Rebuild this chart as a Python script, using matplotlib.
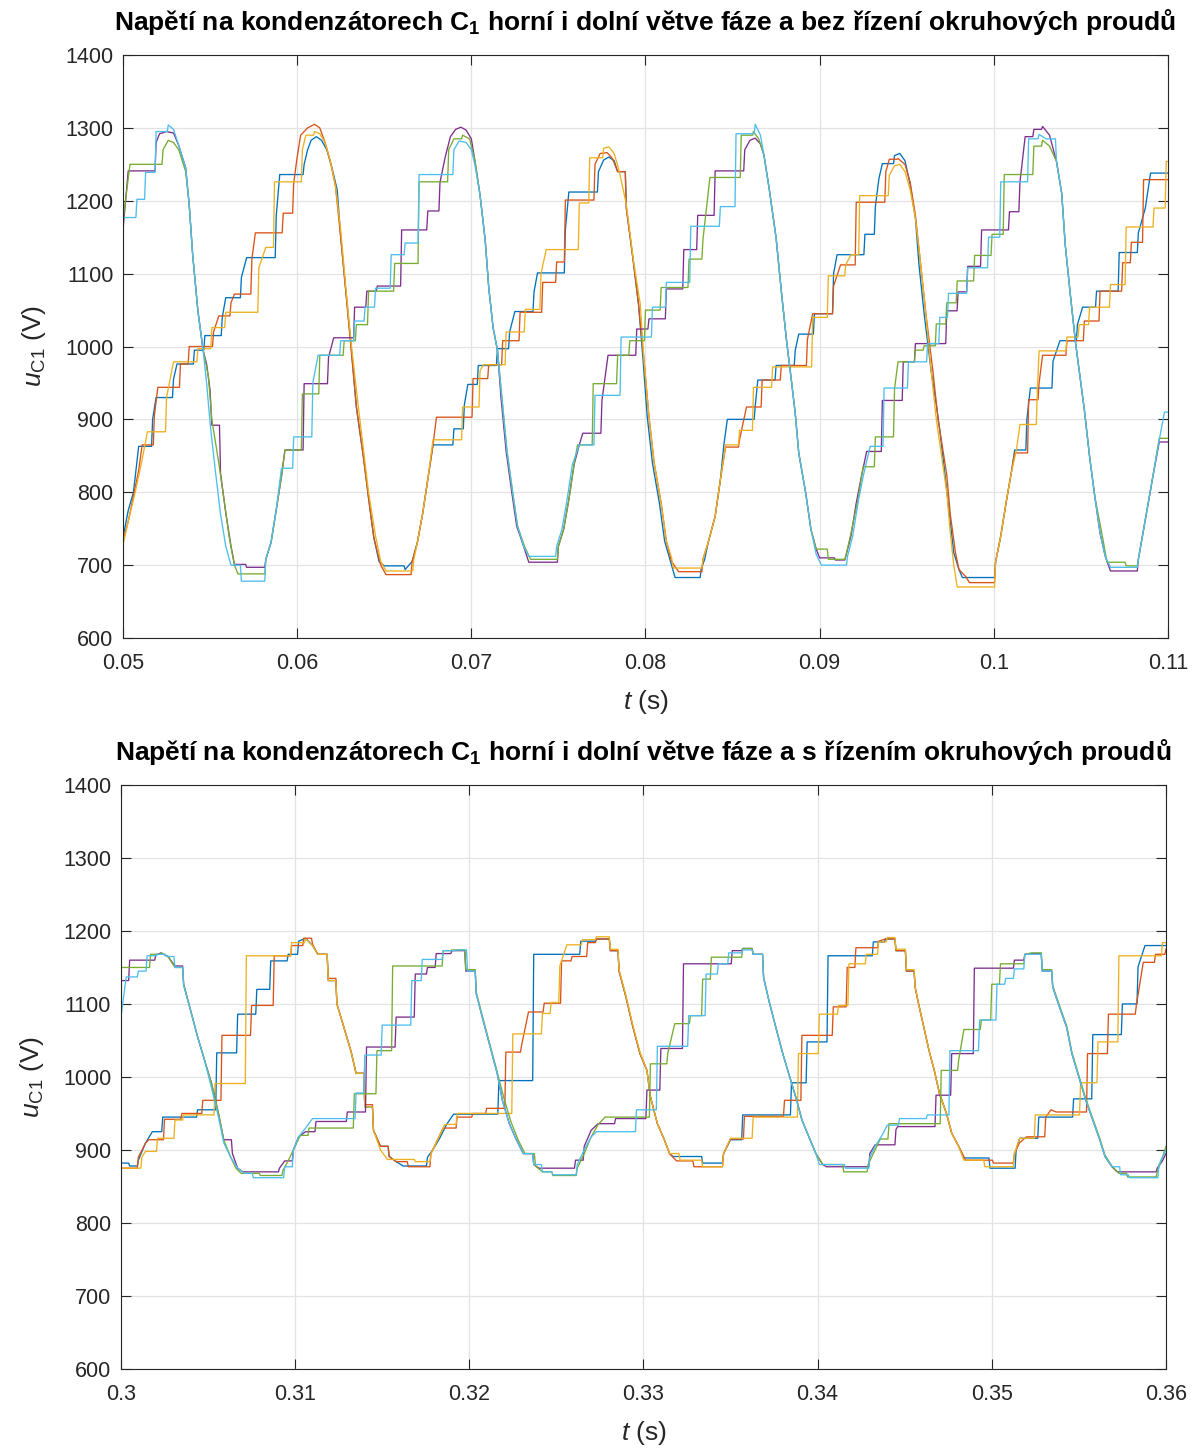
import numpy as np
import matplotlib
matplotlib.use('Agg')
from matplotlib import pyplot as plt
from matplotlib.ticker import FuncFormatter

plt.rcParams['font.family'] = ['Liberation Sans', 'DejaVu Sans']
plt.rcParams['mathtext.fontset'] = 'custom'
plt.rcParams['mathtext.rm'] = 'Liberation Sans'
plt.rcParams['mathtext.it'] = 'Liberation Sans:italic'
plt.rcParams['mathtext.bf'] = 'Liberation Sans:bold'

# (time in ms, voltage in V) knots
top_blue = [(50.0,738),(50.3,775),(50.6,800),(50.9,863),(51.7,900),(51.9,930),(52.9,955),(53.1,976),(54.1,995),(54.7,1015),(55.7,1040),(55.9,1067),(56.8,1095),(57.1,1122),(58.8,1180),(59.0,1236),(60.4,1250),(60.6,1270),(60.8,1283),(61.1,1288),(61.4,1283),(61.7,1270),(62.0,1245),(62.3,1215),(62.5,1150),(62.8,1075),(63.1,1000),(63.4,917),(63.8,849),(64.1,792),(64.4,738),(64.7,705),(65.0,699),(66.2,694),(66.6,705),(66.9,731),(67.2,770),(67.5,817),(67.8,865),(69.0,887),(69.6,920),(69.8,948),(70.4,974),(71.5,997),(72.2,1020),(72.5,1048),(73.6,1075),(73.8,1101),(75.4,1160),(75.6,1212),(77.3,1240),(77.6,1256),(77.9,1260),(78.2,1255),(78.4,1240),(78.9,1190),(79.3,1117),(79.6,1058),(79.85,985),(80.1,904),(80.4,840),(80.8,785),(81.1,733),(81.4,708),(81.7,683),(83.2,695),(83.4,708),(83.6,731),(84.0,767),(84.3,817),(84.5,865),(84.7,900),(86.3,918),(86.45,954),(87.5,974),(88.6,995),(88.8,1017),(89.7,1045),(90.8,1100),(91.0,1126),(92.6,1154),(93.2,1192),(93.4,1230),(93.6,1251),(94.3,1262),(94.6,1265),(94.9,1255),(95.2,1222),(95.5,1176),(95.7,1113),(96.0,1045),(96.4,967),(96.7,920),(96.9,885),(97.2,824),(97.45,770),(97.7,717),(98.0,694),(98.2,683),(100.1,704),(100.4,740),(100.7,785),(101.0,826),(101.2,858),(101.9,900),(102.1,943),(103.4,980),(103.8,1008),(104.8,1030),(105.1,1054),(105.9,1076),(107.2,1129),(108.3,1156),(108.7,1190),(109.0,1238),(110.0,1238)]
top_orange = [(50.0,733),(50.3,760),(50.6,795),(50.9,830),(51.1,865),(51.8,905),(52.0,944),(53.3,976),(53.8,1000),(55.2,1020),(55.5,1042),(56.2,1060),(56.4,1072),(57.4,1120),(57.6,1156),(59.2,1183),(59.8,1224),(60.0,1260),(60.2,1290),(60.6,1300),(61.0,1305),(61.3,1300),(61.6,1280),(61.9,1255),(62.2,1220),(62.5,1150),(62.8,1074),(63.1,995),(63.4,917),(63.8,849),(64.1,792),(64.4,738),(64.8,700),(65.1,687),(66.6,705),(66.9,731),(67.2,770),(67.5,817),(67.8,865),(68.0,903),(70.1,956),(71.0,975),(71.8,1008),(72.8,1047),(74.1,1088),(74.9,1116),(75.4,1201),(77.1,1250),(77.4,1265),(77.8,1266),(78.1,1258),(78.4,1240),(78.9,1190),(79.3,1117),(79.6,1058),(79.9,985),(80.2,904),(80.5,840),(80.9,785),(81.2,733),(81.5,705),(81.9,691),(83.3,708),(83.6,731),(84.0,767),(84.3,817),(84.6,862),(85.4,872),(85.8,917),(86.7,954),(87.8,974),(89.3,1010),(89.6,1045),(90.8,1083),(91.2,1112),(92.1,1198),(93.8,1240),(94.0,1257),(94.5,1258),(94.9,1250),(95.2,1225),(95.5,1180),(95.8,1113),(96.1,1045),(96.5,967),(96.8,900),(97.0,870),(97.3,824),(97.5,770),(97.8,717),(98.0,694),(98.4,684),(98.6,676),(100.1,704),(100.4,740),(100.7,785),(101.0,826),(101.2,854),(102.0,927),(102.6,950),(102.8,988),(104.2,1008),(105.2,1035),(106.1,1076),(107.4,1115),(107.9,1143),(108.6,1229),(110.0,1229)]
top_yellow = [(50.0,728),(50.3,760),(50.7,800),(51.1,845),(51.4,883),(52.5,930),(52.9,979),(54.3,997),(55.1,1026),(55.9,1047),(57.8,1108),(58.2,1136),(58.7,1226),(60.3,1270),(60.5,1290),(61.0,1295),(61.3,1292),(61.6,1280),(61.9,1255),(62.2,1220),(62.5,1160),(62.8,1080),(63.1,1005),(63.5,920),(63.8,860),(64.1,800),(64.5,740),(64.8,705),(65.1,692),(66.7,708),(66.9,731),(67.2,770),(67.5,817),(67.8,872),(69.5,917),(70.5,967),(70.7,975),(72.0,1020),(73.1,1051),(74.0,1100),(74.3,1133),(76.2,1197),(76.8,1259),(77.6,1272),(77.9,1274),(78.2,1265),(78.5,1240),(78.9,1195),(79.3,1120),(79.7,1058),(79.9,985),(80.2,904),(80.5,840),(80.9,785),(81.2,733),(81.5,710),(81.6,696),(83.3,708),(83.6,731),(84.0,767),(84.3,817),(84.6,865),(85.4,885),(86.2,944),(87.3,972),(89.6,1040),(90.5,1097),(91.5,1112),(91.8,1126),(92.3,1207),(94.0,1235),(94.3,1248),(94.6,1250),(94.9,1240),(95.2,1215),(95.5,1176),(95.8,1113),(96.1,1045),(96.4,967),(96.7,900),(97.0,850),(97.3,800),(97.5,745),(97.7,700),(97.9,670),(100.1,704),(100.4,740),(100.7,785),(101.0,826),(101.3,858),(101.5,893),(102.5,940),(102.6,994),(104.2,1013),(104.9,1030),(105.5,1054),(106.7,1085),(107.6,1164),(109.2,1190),(109.9,1254),(110.0,1254)]
top_purple = [(50.0,1160),(50.3,1241),(51.9,1280),(52.1,1292),(52.5,1295),(52.9,1293),(53.2,1276),(53.6,1245),(53.8,1195),(54.0,1126),(54.3,1049),(54.6,995),(54.8,976),(55.0,940),(55.1,892),(55.6,826),(55.9,772),(56.2,726),(56.4,701),(57.1,697),(58.2,708),(58.5,731),(58.8,776),(59.1,822),(59.3,858),(60.4,949),(61.8,985),(62.1,1012),(63.3,1054),(64.0,1076),(64.6,1083),(66.0,1160),(67.5,1186),(68.2,1225),(68.5,1260),(68.8,1288),(69.1,1298),(69.4,1301),(69.7,1297),(70.0,1285),(70.2,1256),(70.5,1208),(70.8,1145),(71.0,1081),(71.25,1026),(71.5,995),(71.7,931),(72.0,856),(72.3,804),(72.6,754),(73.0,726),(73.3,704),(75.0,726),(75.3,749),(75.6,790),(75.9,838),(76.2,865),(76.4,881),(77.5,926),(77.85,988),(79.5,1024),(80.2,1038),(81.2,1079),(82.2,1133),(83.0,1180),(84.0,1241),(85.7,1270),(86.0,1283),(86.3,1286),(86.6,1278),(86.8,1263),(87.1,1217),(87.5,1149),(87.8,1076),(88.1,1008),(88.4,949),(88.6,908),(88.8,854),(89.2,799),(89.5,749),(89.8,722),(90.0,710),(90.9,707),(91.5,712),(91.8,740),(92.1,785),(92.4,822),(92.7,856),(93.6,926),(94.8,979),(95.5,1004),(97.3,1049),(97.95,1075),(98.5,1110),(99.3,1160),(100.9,1185),(101.5,1225),(101.8,1288),(102.3,1298),(102.8,1302),(103.2,1290),(103.6,1254),(103.9,1210),(104.1,1140),(104.4,1070),(104.7,1004),(105.0,949),(105.2,913),(105.5,849),(105.8,794),(106.1,744),(106.4,712),(106.7,692),(108.3,708),(108.5,735),(108.8,776),(109.1,817),(109.5,869),(110.0,869)]
top_green = [(50.0,1172),(50.4,1250),(52.3,1270),(52.6,1283),(52.9,1280),(53.2,1270),(53.6,1240),(53.8,1195),(54.0,1126),(54.3,1049),(54.6,995),(54.9,960),(55.1,900),(55.5,840),(55.8,790),(56.1,738),(56.4,700),(56.6,688),(58.2,708),(58.5,731),(58.8,776),(59.1,822),(59.3,858),(60.3,935),(61.3,988),(62.7,1008),(63.4,1030),(64.1,1076),(65.6,1114),(67.0,1226),(68.7,1270),(69.0,1285),(69.5,1290),(69.9,1285),(70.2,1256),(70.5,1208),(70.8,1145),(71.0,1081),(71.25,1026),(71.5,995),(71.75,931),(72.05,856),(72.35,804),(72.65,754),(73.05,726),(73.4,708),(75.0,726),(75.3,749),(75.6,790),(75.9,838),(76.1,865),(77.0,949),(78.4,988),(79.1,1008),(80.0,1050),(80.9,1081),(82.5,1120),(83.3,1147),(83.7,1232),(85.5,1290),(86.2,1295),(86.5,1285),(86.8,1263),(87.1,1217),(87.5,1149),(87.8,1076),(88.1,1008),(88.4,949),(88.6,908),(88.8,854),(89.2,799),(89.5,749),(89.8,722),(90.5,708),(91.5,712),(91.8,744),(92.2,790),(92.5,835),(93.2,876),(94.3,942),(94.5,979),(95.5,995),(96.0,1001),(96.7,1031),(97.3,1060),(97.9,1090),(98.9,1125),(99.9,1154),(100.6,1236),(102.3,1275),(102.8,1283),(103.2,1275),(103.6,1254),(103.9,1210),(104.1,1140),(104.4,1070),(104.7,1004),(105.0,949),(105.2,913),(105.5,849),(105.8,794),(106.2,744),(106.5,704),(107.6,699),(108.3,708),(108.5,735),(108.8,776),(109.1,817),(109.5,874),(110.0,874)]
top_lightblue = [(50.0,1177),(50.8,1202),(51.3,1239),(51.9,1295),(52.6,1304),(52.9,1298),(53.2,1276),(53.6,1245),(53.8,1195),(54.0,1126),(54.3,1049),(54.6,995),(54.8,950),(55.0,895),(55.3,830),(55.6,770),(55.9,726),(56.2,700),(56.8,678),(58.2,708),(58.5,731),(58.8,776),(59.1,833),(59.8,876),(60.9,950),(61.2,988),(62.5,1008),(63.3,1035),(63.9,1054),(64.5,1080),(65.4,1126),(66.2,1142),(67.0,1236),(69.0,1270),(69.3,1282),(69.7,1280),(70.0,1270),(70.2,1250),(70.5,1208),(70.8,1145),(71.0,1081),(71.25,1026),(71.5,995),(71.75,931),(72.05,856),(72.35,804),(72.65,754),(73.0,726),(73.3,712),(74.9,726),(75.2,749),(75.5,790),(75.8,838),(76.2,865),(77.1,933),(78.6,1013),(80.4,1054),(81.2,1088),(82.6,1165),(84.3,1192),(85.2,1292),(86.3,1305),(86.6,1290),(86.8,1263),(87.1,1217),(87.5,1149),(87.8,1076),(88.1,1008),(88.4,949),(88.6,908),(88.8,854),(89.2,799),(89.5,749),(89.8,715),(90.1,700),(91.6,712),(91.9,740),(92.2,785),(92.5,822),(92.9,863),(93.7,943),(95.1,979),(96.2,1004),(96.9,1040),(97.4,1073),(98.5,1108),(99.7,1150),(100.4,1226),(102.0,1285),(102.6,1291),(103.0,1285),(103.6,1254),(103.9,1210),(104.1,1140),(104.4,1070),(104.7,1004),(105.0,949),(105.2,913),(105.5,849),(105.8,794),(106.1,744),(106.4,712),(106.7,697),(108.3,708),(108.5,735),(108.8,776),(109.1,817),(109.5,872),(109.8,910),(110.0,910)]

bot_blue = [(300.0,882),(300.5,878),(301.0,886),(301.4,909),(301.8,925),(302.4,945),(304.4,955),(305.5,1033),(306.7,1086),(307.8,1120),(308.6,1159),(309.6,1168),(310.2,1186),(310.6,1190),(311.0,1180),(311.3,1168),(311.9,1132),(312.4,1100),(312.8,1068),(313.2,1036),(313.5,1005),(314.0,959),(314.5,927),(314.9,905),(315.4,891),(315.8,884),(316.2,878),(317.6,890),(317.9,900),(318.3,916),(318.7,935),(319.1,949),(321.7,995),(323.7,1168),(326.4,1186),(327.3,1189),(328.1,1173),(328.6,1145),(329.0,1109),(329.4,1068),(329.8,1032),(330.2,1009),(330.4,973),(330.8,936),(331.2,914),(331.5,895),(331.7,891),(333.4,882),(334.6,895),(335.0,914),(335.7,948),(338.5,992),(339.4,1048),(340.6,1166),(343.2,1185),(343.9,1189),(344.5,1173),(345.1,1145),(345.6,1123),(345.8,1100),(346.1,1068),(346.4,1036),(346.7,1009),(347.0,977),(347.4,950),(347.7,923),(348.1,905),(348.4,889),(349.9,875),(351.4,900),(351.6,916),(352.7,945),(354.7,970),(355.8,1058),(357.5,1100),(358.4,1151),(358.8,1180),(360.0,1180)]
bot_orange = [(300.0,875),(301.0,890),(301.4,909),(301.6,914),(302.5,942),(303.5,950),(304.7,968),(305.8,1057),(307.5,1098),(308.8,1166),(309.8,1180),(310.5,1190),(311.0,1182),(311.3,1168),(311.9,1135),(312.4,1100),(312.8,1068),(313.2,1036),(313.5,1005),(314.0,962),(314.5,927),(314.9,905),(315.4,891),(315.8,884),(316.5,877),(317.8,895),(318.1,910),(318.5,930),(319.3,945),(320.2,950),(321.0,957),(322.1,1034),(323.0,1043),(323.4,1089),(324.3,1101),(325.3,1159),(325.9,1165),(326.8,1184),(327.3,1189),(328.1,1173),(328.6,1145),(329.0,1109),(329.4,1068),(329.8,1032),(330.2,1009),(330.4,973),(330.8,936),(331.2,914),(331.5,895),(331.9,885),(332.9,877),(334.6,895),(335.0,915),(335.8,946),(338.1,968),(339.1,1057),(340.9,1096),(341.7,1150),(342.2,1177),(343.5,1186),(343.9,1189),(344.5,1173),(345.1,1145),(345.6,1123),(345.8,1100),(346.1,1068),(346.4,1036),(346.7,1009),(347.0,977),(347.4,950),(347.7,923),(348.1,905),(348.5,886),(350.1,882),(351.3,895),(351.6,910),(352.0,918),(353.1,945),(353.4,955),(353.7,952),(355.5,1032),(356.7,1086),(358.3,1098),(358.7,1157),(359.4,1168),(360.0,1175)]
bot_yellow = [(300.0,875),(301.2,890),(301.4,898),(302.1,916),(303.1,941),(303.6,948),(305.4,991),(307.2,1166),(309.8,1184),(310.6,1189),(311.0,1180),(311.3,1168),(311.9,1132),(312.4,1100),(312.8,1068),(313.2,1036),(313.5,1005),(314.0,959),(314.5,927),(314.9,900),(315.3,887),(316.9,884),(317.8,895),(318.2,915),(318.6,935),(319.3,950),(322.5,1059),(324.2,1087),(324.7,1102),(325.2,1152),(325.6,1181),(326.5,1188),(327.3,1192),(328.1,1175),(328.6,1147),(329.0,1111),(329.4,1070),(329.8,1034),(330.2,1009),(330.4,973),(330.8,936),(331.2,914),(331.5,895),(332.1,886),(333.4,877),(334.6,895),(335.0,916),(336.3,945),(338.9,1032),(340.1,1086),(341.2,1098),(341.8,1155),(342.8,1168),(343.5,1185),(344.0,1191),(344.5,1175),(345.1,1147),(345.6,1123),(345.8,1100),(346.1,1068),(346.4,1036),(346.7,1009),(347.0,977),(347.4,950),(347.7,923),(348.1,905),(348.4,886),(349.6,877),(351.3,895),(351.6,916),(352.5,948),(355.1,992),(356.1,1048),(357.3,1166),(359.8,1184),(360.0,1184)]
bot_purple = [(300.0,1132),(300.5,1160),(302.0,1167),(302.3,1170),(302.7,1165),(303.1,1152),(303.6,1127),(304.0,1091),(304.4,1055),(304.8,1023),(305.2,991),(305.6,950),(305.9,914),(306.4,895),(306.7,875),(307.0,870),(309.1,875),(309.4,885),(309.9,900),(310.2,918),(310.6,925),(311.2,939),(313.0,952),(314.1,1041),(315.8,1082),(316.9,1141),(317.6,1150),(318.1,1169),(319.0,1173),(319.8,1145),(320.4,1114),(320.8,1077),(321.2,1041),(321.6,1005),(321.9,968),(322.3,936),(322.7,914),(323.1,895),(323.7,880),(324.0,875),(326.1,886),(326.6,905),(327.0,927),(327.4,936),(328.4,943),(330.2,982),(331.0,1039),(332.3,1155),(335.1,1173),(335.7,1176),(336.3,1168),(336.9,1136),(337.2,1105),(337.6,1068),(338.0,1032),(338.4,1000),(338.8,968),(339.1,941),(339.5,918),(339.9,895),(340.3,880),(340.5,877),(343.0,895),(343.3,907),(344.5,928),(344.6,932),(346.8,975),(347.7,1032),(349.0,1149),(351.3,1160),(351.9,1168),(352.3,1169),(352.9,1145),(353.5,1123),(353.9,1095),(354.3,1068),(354.6,1032),(355.0,1000),(355.4,968),(355.8,941),(356.2,914),(356.5,891),(356.9,877),(357.2,870),(359.5,875),(359.8,885),(360.0,895)]
bot_green = [(300.0,1150),(301.7,1168),(302.3,1170),(302.7,1165),(303.1,1150),(303.6,1127),(304.0,1091),(304.4,1055),(304.8,1023),(305.2,991),(305.6,950),(305.9,914),(306.3,890),(306.6,875),(306.9,868),(308.0,865),(309.3,872),(309.6,885),(310.0,905),(310.3,920),(310.8,930),(313.4,977),(314.7,1036),(315.6,1152),(318.5,1173),(319.0,1174),(319.8,1147),(320.4,1116),(320.8,1079),(321.2,1043),(321.6,1007),(322.0,970),(322.4,938),(322.8,914),(323.2,895),(323.8,878),(324.2,870),(324.8,865),(326.2,875),(326.6,895),(327.0,918),(327.4,935),(327.8,945),(330.4,1018),(331.4,1033),(331.8,1073),(332.7,1084),(333.4,1134),(333.9,1164),(335.7,1176),(336.3,1168),(336.9,1136),(337.2,1105),(337.6,1068),(338.0,1032),(338.4,1000),(338.8,968),(339.1,941),(339.5,918),(339.9,895),(340.3,880),(341.5,870),(342.9,880),(343.2,895),(343.6,915),(344.1,936),(347.1,1009),(348.1,1023),(348.4,1065),(349.4,1078),(350.0,1127),(350.5,1155),(351.9,1168),(352.3,1170),(352.9,1147),(353.5,1125),(353.9,1097),(354.3,1070),(354.6,1034),(355.0,1002),(355.4,970),(355.8,943),(356.2,916),(356.5,893),(356.9,878),(357.3,868),(357.8,863),(359.5,870),(359.8,890),(360.0,905)]
bot_lightblue = [(300.0,1082),(300.3,1137),(301.0,1145),(301.5,1166),(302.1,1168),(302.6,1165),(303.1,1150),(303.6,1125),(304.0,1091),(304.4,1055),(304.8,1023),(305.2,985),(305.6,945),(305.9,910),(306.3,890),(306.7,875),(307.1,868),(307.6,862),(309.4,877),(309.9,900),(310.2,918),(310.6,930),(311.0,943),(313.5,978),(314.0,1030),(315.0,1071),(316.7,1132),(317.3,1161),(318.5,1173),(319.3,1174),(319.9,1145),(320.4,1114),(320.8,1077),(321.2,1041),(321.6,1005),(321.9,968),(322.3,936),(322.7,914),(323.1,895),(323.7,880),(324.2,870),(324.8,866),(326.2,880),(326.6,900),(327.0,918),(327.3,925),(329.6,955),(330.8,1042),(332.6,1084),(333.6,1141),(334.3,1155),(334.9,1170),(335.7,1174),(336.3,1168),(336.9,1136),(337.2,1105),(337.6,1068),(338.0,1032),(338.4,1000),(338.8,968),(339.1,941),(339.5,918),(339.9,895),(340.1,880),(341.6,875),(343.0,890),(343.3,905),(343.7,920),(344.0,934),(344.7,943),(346.3,948),(347.6,1036),(349.3,1078),(350.3,1127),(350.8,1135),(351.3,1148),(351.9,1168),(352.3,1168),(352.9,1145),(353.5,1123),(353.9,1095),(354.3,1068),(354.6,1032),(355.0,1000),(355.4,968),(355.8,941),(356.2,914),(356.5,891),(356.9,877),(357.4,866),(357.9,862),(359.6,880),(360.0,900)]

colors = ['#0072BD', '#D95319', '#EDB120', '#7E2F8E', '#77AC30', '#4DBEEE']

top_series = [top_blue, top_orange, top_yellow, top_purple, top_green, top_lightblue]
bot_series = [bot_blue, bot_orange, bot_yellow, bot_purple, bot_green, bot_lightblue]

titles = ['Napětí na kondenzátorech C$_{\\mathbf{1}}$ horní i dolní větve fáze a bez řízení okruhových proudů',
          'Napětí na kondenzátorech C$_{\\mathbf{1}}$ horní i dolní větve fáze a s řízením okruhových proudů']
xlims = [(0.05, 0.11), (0.30, 0.36)]
xticks = [np.arange(0.05, 0.1101, 0.01), np.arange(0.30, 0.3601, 0.01)]
yticks = np.arange(600, 1401, 100)


def trace(data, hold=0.45):
    # long gaps between knots are flat holds followed by a jump,
    # short gaps are drawn as straight ramps
    t, v = [data[0][0]], [data[0][1]]
    for (t0, v0), (t1, v1) in zip(data[:-1], data[1:]):
        if t1 - t0 >= hold:
            t.append(t1 - 0.06)
            v.append(v0)
        t.append(t1)
        v.append(v1)
    return np.array(t) / 1000.0, np.array(v)


fig = plt.figure(figsize=(12, 14.52), dpi=100)
positions = [[0.1025, 0.5606, 0.8708, 0.4015], [0.1008, 0.0572, 0.8708, 0.4022]]

for k, series in enumerate([top_series, bot_series]):
    ax = fig.add_axes(positions[k])
    for data, c in zip(series, colors):
        t, v = trace(data)
        ax.plot(t, v, color=c, lw=0.95)
    ax.set_xlim(*xlims[k])
    ax.set_ylim(600, 1400)
    ax.set_xticks(xticks[k])
    ax.set_yticks(yticks)
    ax.xaxis.set_major_formatter(FuncFormatter(lambda x, p: '%g' % round(x, 3)))
    ax.grid(True, color='#e3e3e3', lw=0.9)
    ax.set_axisbelow(True)
    for s in ax.spines.values():
        s.set_color('#262626')
        s.set_linewidth(0.8)
    ax.tick_params(direction='in', top=True, right=True, length=7, width=0.8,
                   labelsize=15.5, colors='#262626')
    ax.tick_params(axis='x', pad=11)
    ax.tick_params(axis='y', pad=7)
    ax.set_xlabel('$t$ (s)', fontsize=19, color='#262626', labelpad=10)
    ax.set_ylabel('$u_{\\mathrm{C1}}$ (V)', fontsize=19, color='#262626', labelpad=12)
    ax.set_title(titles[k], fontsize=19, fontweight='bold', pad=18)

fig.savefig('out.png', dpi=100)
